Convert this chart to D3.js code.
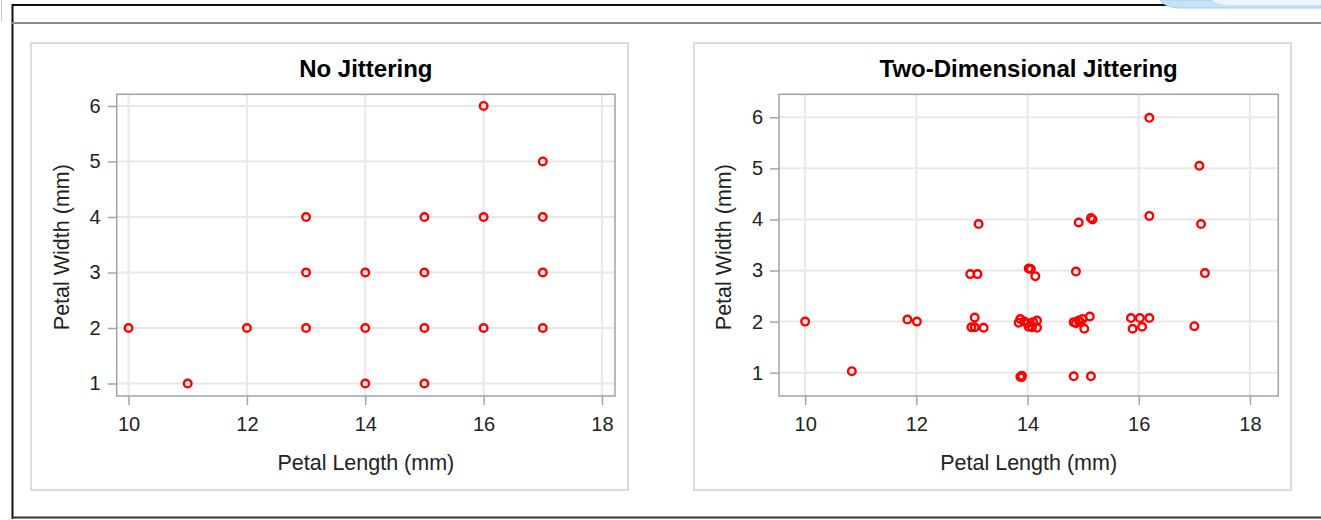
<!DOCTYPE html>
<html>
<head>
<meta charset="utf-8">
<script src="https://cdn.jsdelivr.net/npm/d3@7"></script>
<style>
  html, body { margin: 0; padding: 0; background: #fff; }
  svg { display: block; font-family: "Liberation Sans", Arial, sans-serif; }
</style>
</head>
<body>
<svg id="chart" width="1321" height="520"></svg>
<script>
// Petal measurements as recorded (no jitter)
const lengthRaw = [10, 11, 12, 13, 13, 13, 14, 14, 14, 15, 15, 15, 15, 16, 16, 16, 17, 17, 17, 17];
const widthRaw  = [2, 1, 2, 4, 3, 2, 3, 2, 1, 4, 3, 2, 1, 6, 4, 2, 5, 4, 3, 2];

// Same measurements after two-dimensional jittering
const lengthJit = [10.0, 10.84, 11.84, 12.01, 12.97, 13.10, 13.05, 12.99, 13.05, 13.21, 13.12,
  14.02, 14.06, 14.14, 13.84, 13.87, 13.94, 14.0, 14.02, 14.10, 14.17, 14.17, 14.08,
  13.87, 13.90, 13.89, 14.92, 15.14, 15.17, 14.87, 14.83, 14.87, 14.92, 14.99, 15.12,
  15.02, 14.95, 14.83, 15.14, 16.19, 16.19, 15.86, 16.02, 16.19, 15.89, 16.06,
  17.09, 17.12, 17.19, 17.0];
const widthJit = [2.0, 1.03, 2.04, 2.0, 2.93, 2.93, 2.08, 1.89, 1.89, 1.88, 3.91,
  3.04, 3.03, 2.89, 1.98, 2.05, 2.0, 1.97, 1.9, 1.99, 2.02, 1.88, 1.89,
  0.92, 0.94, 0.91, 3.94, 4.03, 4.0, 2.98, 1.99, 1.97, 2.02, 2.05, 2.10,
  1.86, 1.99, 0.93, 0.93, 5.99, 4.07, 2.07, 2.07, 2.07, 1.86, 1.90,
  5.05, 3.91, 2.95, 1.91];

const xTicks = [10, 12, 14, 16, 18];
const yTicks = [1, 2, 3, 4, 5, 6];

const titles = ["No Jittering", "Two-Dimensional Jittering"];
const xLabel = "Petal Length (mm)";
const yLabel = "Petal Width (mm)";

const svg = d3.select("#chart");

// Page frame
svg.append("line").attr("x1", 1.5).attr("x2", 1.5).attr("y1", 0).attr("y2", 21)
  .attr("stroke", "#c8c8c8").attr("stroke-width", 1);
svg.append("line").attr("x1", 12).attr("x2", 1321).attr("y1", 5).attr("y2", 5)
  .attr("stroke", "#111").attr("stroke-width", 2);
svg.append("line").attr("x1", 12.5).attr("x2", 12.5).attr("y1", 4).attr("y2", 519)
  .attr("stroke", "#111").attr("stroke-width", 2);
svg.append("line").attr("x1", 12).attr("x2", 1321).attr("y1", 23).attr("y2", 23)
  .attr("stroke", "#8a8a8a").attr("stroke-width", 2);
svg.append("line").attr("x1", 12).attr("x2", 1321).attr("y1", 517.5).attr("y2", 517.5)
  .attr("stroke", "#333").attr("stroke-width", 2);

// Tab at the top-right corner
svg.append("path")
  .attr("d", "M1160,0 Q1166,8 1180,8 L1321,8 L1321,0 Z")
  .attr("fill", "#c7e2f6").attr("stroke", "#9fcdee").attr("stroke-width", 1);
svg.append("path")
  .attr("d", "M1212,0 Q1218,5 1230,5 L1321,5 L1321,0 Z")
  .attr("fill", "#eef6fd");

const panels = [
  { box: [31, 43, 628, 490], plot: [116.7, 94.3, 615, 396],
    xDom: [9.80, 18.22], yDom: [0.775, 6.21], xs: lengthRaw, ys: widthRaw, yLabX: 61 },
  { box: [694, 43, 1291, 490], plot: [779, 94.3, 1278.3, 396],
    xDom: [9.53, 18.51], yDom: [0.544, 6.45], xs: lengthJit, ys: widthJit, yLabX: 723 }
];

panels.forEach((p, i) => {
  const [bx0, by0, bx1, by1] = p.box;
  const [px0, py0, px1, py1] = p.plot;
  const g = svg.append("g");

  g.append("rect").attr("x", bx0).attr("y", by0)
    .attr("width", bx1 - bx0).attr("height", by1 - by0)
    .attr("fill", "#fff").attr("stroke", "#dcdcdc").attr("stroke-width", 2);

  const x = d3.scaleLinear().domain(p.xDom).range([px0, px1]);
  const y = d3.scaleLinear().domain(p.yDom).range([py1, py0]);

  // Grid
  g.append("g").selectAll("line").data(xTicks).join("line")
    .attr("x1", d => x(d)).attr("x2", d => x(d)).attr("y1", py0).attr("y2", py1)
    .attr("stroke", "#e8e8e8").attr("stroke-width", 2);
  g.append("g").selectAll("line").data(yTicks).join("line")
    .attr("x1", px0).attr("x2", px1).attr("y1", d => y(d)).attr("y2", d => y(d))
    .attr("stroke", "#e8e8e8").attr("stroke-width", 2);

  // Axes
  const xAxis = g.append("g").attr("transform", `translate(0,${py1})`)
    .call(d3.axisBottom(x).tickValues(xTicks).tickSize(9).tickPadding(12).tickFormat(d3.format("d")));
  const yAxis = g.append("g").attr("transform", `translate(${px0},0)`)
    .call(d3.axisLeft(y).tickValues(yTicks).tickSize(9).tickPadding(7).tickFormat(d3.format("d")));
  [xAxis, yAxis].forEach(a => {
    a.select(".domain").remove();
    a.selectAll(".tick line").attr("stroke", "#a3a7ab").attr("stroke-width", 1.5);
    a.selectAll(".tick text").attr("fill", "#222").style("font-size", "20px")
      .style("font-family", "'Liberation Sans', Arial, sans-serif");
  });

  // Plot frame
  g.append("rect").attr("x", px0).attr("y", py0)
    .attr("width", px1 - px0).attr("height", py1 - py0)
    .attr("fill", "none").attr("stroke", "#9ea3a8").attr("stroke-width", 1.5);

  // Markers
  g.append("g").selectAll("circle").data(p.xs.map((v, k) => [v, p.ys[k]])).join("circle")
    .attr("cx", d => x(d[0])).attr("cy", d => y(d[1])).attr("r", 3.8)
    .attr("fill", "none").attr("stroke", "#ff0000").attr("stroke-width", 2.4);

  // Title and axis labels
  g.append("text").attr("x", (px0 + px1) / 2).attr("y", 76.5)
    .attr("text-anchor", "middle").attr("font-weight", "bold")
    .style("font-size", "24px").attr("fill", "#000").text(titles[i]);
  g.append("text").attr("x", (px0 + px1) / 2).attr("y", 470)
    .attr("text-anchor", "middle").style("font-size", "21.5px").attr("fill", "#222").text(xLabel);
  g.append("text").attr("transform", `translate(${p.yLabX},${(py0 + py1) / 2 + 2}) rotate(-90)`)
    .attr("text-anchor", "middle").attr("dy", "0.35em")
    .style("font-size", "21.5px").attr("fill", "#222").text(yLabel);
});
</script>
</body>
</html>
